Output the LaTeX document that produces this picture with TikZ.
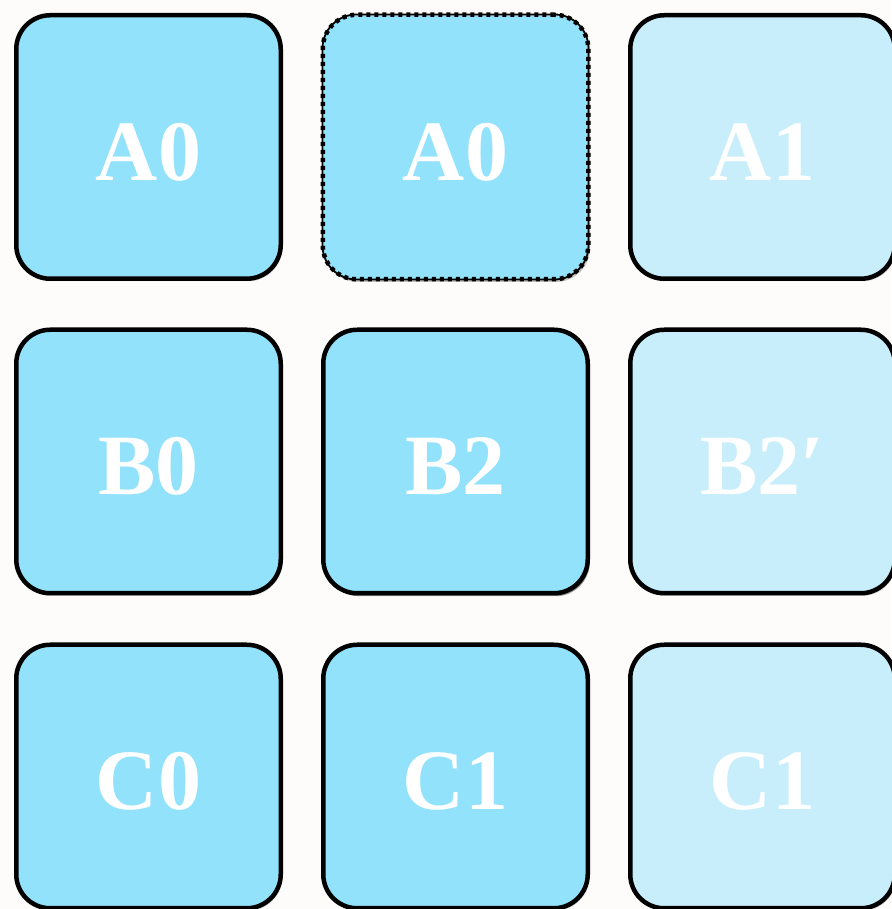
\documentclass[tikz,border=0pt]{standalone}
\usepackage{fontspec}
\setmainfont{Liberation Serif}
\usetikzlibrary{shadows}
\definecolor{bgc}{RGB}{253,252,251}
\definecolor{darkc}{RGB}{147,226,252}
\definecolor{lightc}{RGB}{200,238,252}
\tikzset{
  tileshadow/.style={drop shadow={shadow xshift=1.5pt, shadow yshift=-2.5pt, opacity=0.22, fill=black}},
  tile/.style={draw=black, line width=4.5pt, rounded corners=34pt,
    minimum width=264.5pt, minimum height=263.5pt, inner sep=0pt, tileshadow},
  darktile/.style={tile, fill=darkc},
  lighttile/.style={tile, fill=lightc},
  dashtile/.style={draw=black, line width=1.8pt, rounded corners=34pt,
    minimum width=266pt, minimum height=265pt, inner sep=0pt, fill=darkc, tileshadow},
  dashedge/.style={draw=black, line width=4.5pt, rounded corners=34pt,
    minimum width=265.5pt, minimum height=264.5pt, inner sep=0pt,
    dash pattern=on 4pt off 4pt},
  lbl/.style={font=\fontsize{86}{90}\selectfont\bfseries, text=white}
}
\begin{document}
\begin{tikzpicture}[x=1pt,y=1pt]
\fill[bgc] (0,0) rectangle (891,909);
\useasboundingbox (0,0) rectangle (891,909);
% row 1
\node[darktile] (a1) at (148.5,762) {};
\node[dashtile] (a2) at (455.5,762) {};
\node[dashedge] (a2e) at (455.5,762) {};
\node[lighttile] (a3) at (762.5,762) {};
% row 2
\node[darktile] (b1) at (148.5,447.5) {};
\node[darktile, drop shadow={shadow xshift=2pt, shadow yshift=-3pt, opacity=0.35, fill=black}] (b2) at (455.5,447.5) {};
\node[lighttile] (b3) at (762.5,447.5) {};
% row 3
\node[darktile] (c1) at (148.5,132.5) {};
\node[darktile] (c2) at (455.5,132.5) {};
\node[lighttile] (c3) at (762.5,132.5) {};
% labels
\foreach \n/\t in {a1/A0,a2/A0,a3/A1,b1/B0,b2/B2,b3/B2′,c1/C0,c2/C1,c3/C1}{
  \node[lbl] (\n t) at ([yshift=-5pt]\n.center) {\t};
}
\end{tikzpicture}
\end{document}
